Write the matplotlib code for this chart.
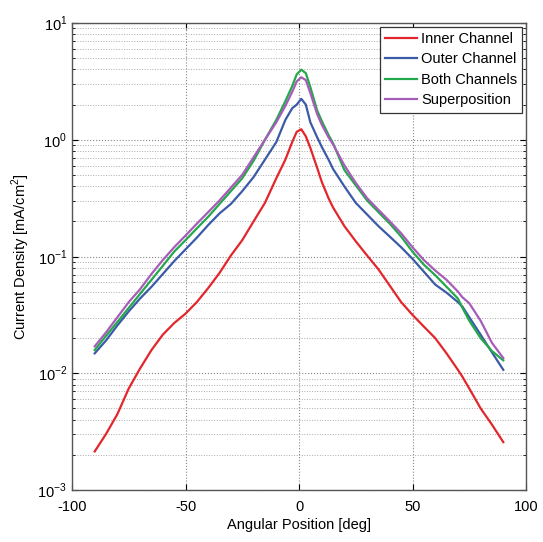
import numpy as np
import matplotlib
matplotlib.use("Agg")
import matplotlib.pyplot as plt
from matplotlib.ticker import LogLocator, FixedLocator, NullFormatter

plt.rcParams['font.family'] = ['Liberation Sans', 'DejaVu Sans']
plt.rcParams['mathtext.fontset'] = 'custom'
plt.rcParams['mathtext.rm'] = 'Liberation Sans'
plt.rcParams['axes.unicode_minus'] = False

# angular position [deg]
angle = [-90, -85, -80, -75, -70, -65, -60, -55, -50, -45, -40, -35, -30, -25,
         -20, -15, -10, -6, -3, -1, 1, 3, 5, 8, 10, 13, 15, 20, 25, 30, 35,
         40, 45, 50, 55, 60, 65, 70, 72, 75, 80, 85, 90]

# current density [mA/cm^2]
inner = [0.00214, 0.00302, 0.00447, 0.00741, 0.0110, 0.0158, 0.0214, 0.0269,
         0.0324, 0.0407, 0.0537, 0.0724, 0.102, 0.138, 0.200, 0.288, 0.468,
         0.676, 0.955, 1.17, 1.23, 1.07, 0.851, 0.575, 0.437, 0.316, 0.263,
         0.182, 0.135, 0.102, 0.0776, 0.0562, 0.0407, 0.0316, 0.0251, 0.0200,
         0.0148, 0.0107, 0.00933, 0.00741, 0.00501, 0.00363, 0.00257]
outer = [0.0148, 0.0191, 0.0257, 0.0339, 0.0437, 0.0550, 0.0708, 0.0912,
         0.115, 0.145, 0.186, 0.234, 0.282, 0.363, 0.479, 0.676, 0.955, 1.48,
         1.86, 2.00, 2.24, 2.00, 1.41, 1.05, 0.871, 0.676, 0.562, 0.398, 0.288,
         0.229, 0.182, 0.148, 0.120, 0.0955, 0.0741, 0.0575, 0.0490, 0.0407,
         0.0372, 0.0302, 0.0214, 0.0151, 0.0107]
both = [0.0158, 0.0209, 0.0275, 0.0363, 0.0479, 0.0631, 0.0832, 0.110, 0.138,
        0.174, 0.219, 0.282, 0.363, 0.468, 0.661, 1.00, 1.48, 2.14, 2.88, 3.63,
        3.98, 3.72, 2.82, 1.78, 1.45, 1.10, 0.933, 0.550, 0.407, 0.302, 0.240,
        0.191, 0.148, 0.110, 0.0851, 0.0692, 0.0550, 0.0437, 0.0363, 0.0282,
        0.0200, 0.0155, 0.0129]
superpos = [0.0170, 0.0224, 0.0302, 0.0407, 0.0525, 0.0708, 0.0933, 0.120,
            0.151, 0.191, 0.240, 0.302, 0.389, 0.501, 0.708, 1.00, 1.41, 1.95,
            2.57, 3.16, 3.43, 3.24, 2.51, 1.66, 1.35, 1.05, 0.912, 0.603, 0.427,
            0.316, 0.251, 0.200, 0.158, 0.120, 0.0933, 0.0759, 0.0631, 0.0501,
            0.0447, 0.0398, 0.0282, 0.0182, 0.0135]

labels = ["Inner Channel", "Outer Channel", "Both Channels", "Superposition"]
colors = ["#e3262b", "#3b5aa8", "#23a84a", "#a65cb8"]

fig = plt.figure(figsize=(5.43, 5.42), dpi=100)
ax = fig.add_axes([0.1326, 0.0959, 0.8361, 0.8617])

for ys, lab, c in zip([inner, outer, both, superpos], labels, colors):
    ax.plot(angle, ys, color=c, lw=1.6, label=lab)

ax.set_yscale('log')
ax.set_xlim(-100, 100)
ax.set_ylim(1e-3, 1e1)
ax.set_xticks([-100, -50, 0, 50, 100])
ax.yaxis.set_major_locator(FixedLocator([1e-3, 1e-2, 1e-1, 1e0, 1e1]))
ax.yaxis.set_minor_locator(LogLocator(base=10, subs=np.arange(2, 10)))
ax.yaxis.set_minor_formatter(NullFormatter())
ax.set_yticklabels([r'$10^{-3}$', r'$10^{-2}$', r'$10^{-1}$', r'$10^{0}$', r'$10^{1}$'])

ax.grid(True, which='major', linestyle=':', color='#888888', lw=0.8)
ax.grid(True, which='minor', axis='y', linestyle=':', color='#aaaaaa', lw=0.7)
ax.tick_params(which='both', direction='in', top=True, right=True, labelsize=10.5)
ax.tick_params(which='major', length=4)
ax.tick_params(which='minor', length=2.5)
ax.tick_params(axis='x', pad=7)
for s in ax.spines.values():
    s.set_color('#555555')
    s.set_linewidth(1.0)

ax.set_xlabel("Angular Position [deg]", fontsize=10.5, labelpad=3)
ax.set_ylabel("Current Density [mA/cm$^2$]", fontsize=10.5)

leg = ax.legend(loc='upper right', fontsize=10.5, fancybox=False, framealpha=1,
                edgecolor='#333333', borderaxespad=0.25, handlelength=2.2,
                handletextpad=0.3, labelspacing=0.45, borderpad=0.35)
leg.get_frame().set_linewidth(0.9)

fig.savefig("out.png", dpi=100)
